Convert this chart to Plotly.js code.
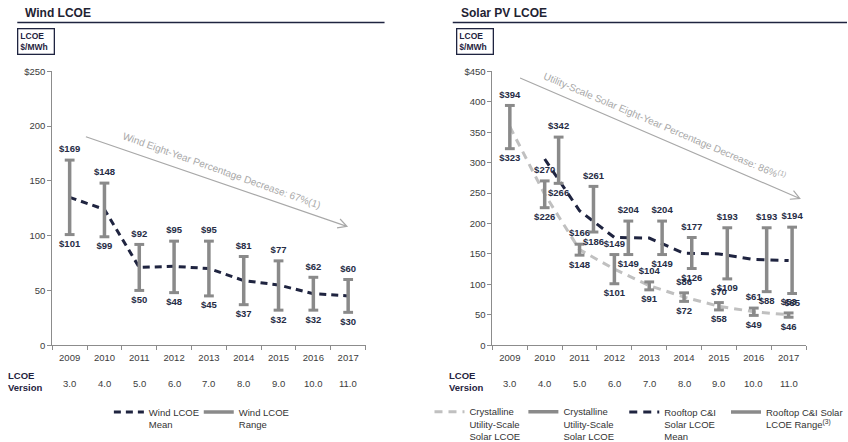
<!DOCTYPE html>
<html>
<head>
<meta charset="utf-8">
<script src="https://cdn.plot.ly/plotly-3.0.1.min.js"></script>
<style>
  html, body { margin: 0; padding: 0; background: #ffffff; overflow: hidden; }
  #chart { width: 848px; height: 462px; }
</style>
</head>
<body>
<div id="chart"></div>
<script>
// ---- data ----
const years = [2009, 2010, 2011, 2012, 2013, 2014, 2015, 2016, 2017];
const versions = ['3.0', '4.0', '5.0', '6.0', '7.0', '8.0', '9.0', '10.0', '11.0'];

const windMean = [135, 124, 71, 72, 70, 59, 55, 47, 45];
const windHigh = [169, 148, 92, 95, 95, 81, 77, 62, 60];
const windLow  = [101, 99, 50, 48, 45, 37, 32, 32, 30];

const utilMean = [359, 248, 157, 125, 98, 79, 64, 55, 50];
const utilHigh = [394, 270, 166, 149, 104, 86, 70, 61, 53];
const utilLow  = [323, 226, 148, 101, 91, 72, 58, 49, 46];

const roofYears = [2010, 2011, 2012, 2013, 2014, 2015, 2016, 2017];
const roofMean  = [306, 221, 177, 176, 151, 150, 141, 139];
const roofHigh  = [342, 261, 204, 204, 177, 193, 193, 194];
const roofLow   = [266, 186, 149, 149, 126, 109, 88, 85];

const windTicks  = [0, 50, 100, 150, 200, 250];
const solarTicks = [0, 50, 100, 150, 200, 250, 300, 350, 400, 450];

// ---- styling ----
// the figure runs a little below the visible window so the last legend lines can overflow it
const W = 848, H = 462;
const FONT = 'Liberation Sans, Arial, sans-serif';
const NAVY = '#1f2440';
const BAR = '#8a8a8a';
const LIGHT = '#c0c0c0';
const TICK = '#3c3c3c';
const LABEL = '#262c45';
const ARROW = '#a8a8a8';

// horizontal nudge of the rooftop range bars within each year slot
const roofShift = [0.40, 0.40, 0.40, 0.37, 0.22, 0.24, 0.37, 0.10];

const px = v => v / W;
const py = v => 1 - v / H;

function segments(xs, lo, hi) {
  const x = [], y = [];
  xs.forEach((v, i) => { x.push(v, v, null); y.push(lo[i], hi[i], null); });
  return { x, y };
}
const money = arr => arr.map(v => '<b>$' + v + '</b>');

function rangeTraces(xs, lo, hi, xa, ya, name, legend) {
  const s = segments(xs, lo, hi);
  const cap = { symbol: 'line-ew', size: 7, line: { width: 3, color: BAR } };
  const tf = { family: FONT, size: 9.5, color: LABEL };
  return [
    { type: 'scatter', mode: 'lines', x: s.x, y: s.y, xaxis: xa, yaxis: ya,
      line: { color: BAR, width: 3.5 }, name: name, legend: legend, hoverinfo: 'skip' },
    { type: 'scatter', mode: 'markers+text', x: xs, y: hi, xaxis: xa, yaxis: ya,
      marker: cap, text: money(hi), textposition: 'top center', textfont: tf,
      showlegend: false, cliponaxis: false, hoverinfo: 'skip' },
    { type: 'scatter', mode: 'markers+text', x: xs, y: lo, xaxis: xa, yaxis: ya,
      marker: cap, text: money(lo), textposition: 'bottom center', textfont: tf,
      showlegend: false, cliponaxis: false, hoverinfo: 'skip' }
  ];
}

const roofX = roofYears.map((y, i) => y + roofShift[i]);

const traces = [
  // wind
  { type: 'scatter', mode: 'lines', x: years, y: windMean, xaxis: 'x', yaxis: 'y',
    line: { color: NAVY, width: 3, dash: '7px,5px' }, name: 'Wind LCOE<br>Mean', legend: 'legend' },
  ...rangeTraces(years, windLow, windHigh, 'x', 'y', 'Wind LCOE<br>Range', 'legend2'),
  // solar
  { type: 'scatter', mode: 'lines', x: years, y: utilMean, xaxis: 'x2', yaxis: 'y2',
    line: { color: LIGHT, width: 3, dash: '8px,6px' },
    name: 'Crystalline<br>Utility-Scale<br>Solar LCOE<br>Mean', legend: 'legend3' },
  { type: 'scatter', mode: 'lines', x: roofYears, y: roofMean, xaxis: 'x2', yaxis: 'y2',
    line: { color: NAVY, width: 3, dash: '8px,6px' },
    name: 'Rooftop C&I<br>Solar LCOE<br>Mean', legend: 'legend5' },
  ...rangeTraces(years, utilLow, utilHigh, 'x2', 'y2',
    'Crystalline<br>Utility-Scale<br>Solar LCOE<br>Range<sup>(2)</sup>', 'legend4'),
  ...rangeTraces(roofX, roofLow, roofHigh, 'x2', 'y2',
    'Rooftop C&I Solar<br>LCOE Range<sup>(3)</sup>', 'legend6')
];

function xAxis(domain, anchor) {
  const bounds = years.map(y => y - 0.5).concat([years[years.length - 1] + 0.5]);
  return {
    domain: domain, anchor: anchor, range: [2008.5, 2017.5],
    showline: true, linecolor: '#8c8c8c', linewidth: 1,
    showgrid: false, zeroline: false, fixedrange: true,
    tickmode: 'array', tickvals: years, ticktext: years.map(String), ticks: '',
    ticklabelstandoff: 3,
    tickfont: { family: FONT, size: 9.5, color: TICK },
    minor: { tickmode: 'array', tickvals: bounds, ticks: 'outside', ticklen: 4,
             tickcolor: '#8c8c8c', tickwidth: 1, showgrid: false }
  };
}
function yAxis(domain, anchor, ticks) {
  const top = ticks[ticks.length - 1];
  return {
    domain: domain, anchor: anchor, range: [0, top],
    showline: true, linecolor: '#8c8c8c', linewidth: 1,
    showgrid: false, zeroline: false, fixedrange: true,
    tickmode: 'array', tickvals: ticks,
    ticktext: ticks.map(v => v === top ? '$' + v : String(v)),
    ticks: 'outside', ticklen: 4, tickcolor: '#8c8c8c',
    tickfont: { family: FONT, size: 9.5, color: TICK }
  };
}

const yDom = [py(346.7), py(71.7)];

function legendAt(xText, yTop) {
  return {
    x: px(xText - 40), y: py(yTop), xanchor: 'left', yanchor: 'top',
    orientation: 'v', bgcolor: 'rgba(0,0,0,0)', borderwidth: 0,
    font: { family: FONT, size: 9.5, color: '#333333' }, valign: 'top',
    itemwidth: 30, itemclick: false, itemdoubleclick: false
  };
}

const annotations = [];
function addText(text, x, y, opts) {
  annotations.push(Object.assign({
    text: text, xref: 'paper', yref: 'paper', x: px(x), y: py(y),
    showarrow: false, xanchor: 'left', yanchor: 'middle',
    font: { family: FONT, size: 9.5, color: NAVY }
  }, opts || {}));
}
// panel titles
addText('<b>Wind LCOE</b>', 23, 13.3, { font: { family: FONT, size: 12, color: '#1f2333' } });
addText('<b>Solar PV LCOE</b>', 459.5, 13.3, { font: { family: FONT, size: 12, color: '#1f2333' } });
// unit boxes
[16.7, 456.7].forEach(bx => {
  annotations.push({
    text: '<b>LCOE<br>$/MWh</b>', xref: 'paper', yref: 'paper',
    x: px(bx), y: py(28.3), xanchor: 'left', yanchor: 'top', showarrow: false,
    align: 'left', width: 31, height: 20, borderpad: 2,
    bordercolor: NAVY, borderwidth: 1.3,
    font: { family: FONT, size: 8.5, color: NAVY }
  });
});
// version row
addText('<b>LCOE<br>Version</b>', 6.5, 383.3, { align: 'left' });
addText('<b>LCOE<br>Version</b>', 448, 383.3, { align: 'left' });
['x', 'x2'].forEach(xr => {
  years.forEach((yr, i) => {
    annotations.push({
      text: versions[i], xref: xr, yref: 'paper', x: yr, y: py(385),
      showarrow: false, xanchor: 'center', yanchor: 'middle',
      font: { family: FONT, size: 9.5, color: TICK }
    });
  });
});
// trend captions
addText('Wind Eight-Year Percentage Decrease: 67%(1)', 221.7, 171.5,
  { xanchor: 'center', textangle: 19.5, font: { family: FONT, size: 10, color: ARROW } });
addText('Utility-Scale Solar Eight-Year Percentage Decrease: 86%<sup>(1)</sup>', 665.7, 126.5,
  { xanchor: 'center', textangle: 23, font: { family: FONT, size: 10, color: ARROW } });

// rules and trend arrows
const shapes = [
  { type: 'line', xref: 'paper', yref: 'paper', x0: px(17.3), x1: px(385), y0: py(22.7), y1: py(22.7),
    line: { color: NAVY, width: 1.5 } },
  { type: 'line', xref: 'paper', yref: 'paper', x0: px(453.3), x1: 1, y0: py(22.7), y1: py(22.7),
    line: { color: NAVY, width: 1.5 } }
];
function arrow(x0, y0, x1, y1) {
  const L = Math.hypot(x1 - x0, y1 - y0);
  const dx = (x1 - x0) / L, dy = (y1 - y0) / L;
  const a = 28 * Math.PI / 180, len = 10;
  const arm = s => {
    const c = Math.cos(s * a), n = Math.sin(s * a);
    const rx = dx * c - dy * n, ry = dx * n + dy * c;
    return [x1 - len * rx, y1 - len * ry];
  };
  const p1 = arm(1), p2 = arm(-1);
  const P = (x, y) => px(x) + ',' + py(y);
  shapes.push({
    type: 'path', xref: 'paper', yref: 'paper',
    path: 'M' + P(x0, y0) + ' L' + P(x1, y1) + ' M' + P(p1[0], p1[1]) + ' L' + P(x1, y1) + ' L' + P(p2[0], p2[1]),
    line: { color: ARROW, width: 1.2 }
  });
}
arrow(86, 137.3, 347.3, 227.3);
arrow(520.7, 78.3, 800.7, 199.3);

const layout = {
  width: W, height: H,
  margin: { l: 0, r: 0, t: 0, b: 0 },
  paper_bgcolor: '#ffffff', plot_bgcolor: '#ffffff',
  font: { family: FONT, color: TICK },
  showlegend: true,
  xaxis: xAxis([px(52.3), px(366)], 'y'),
  yaxis: yAxis(yDom, 'x', windTicks),
  xaxis2: xAxis([px(493), px(807)], 'y2'),
  yaxis2: yAxis(yDom, 'x2', solarTicks),
  legend: legendAt(149, 401),
  legend2: legendAt(239, 401),
  legend3: legendAt(470, 401),
  legend4: legendAt(564, 401),
  legend5: legendAt(665, 401),
  legend6: legendAt(767, 401),
  annotations: annotations,
  shapes: shapes
};

Plotly.newPlot('chart', traces, layout, { displayModeBar: false, staticPlot: true });
</script>
</body>
</html>
